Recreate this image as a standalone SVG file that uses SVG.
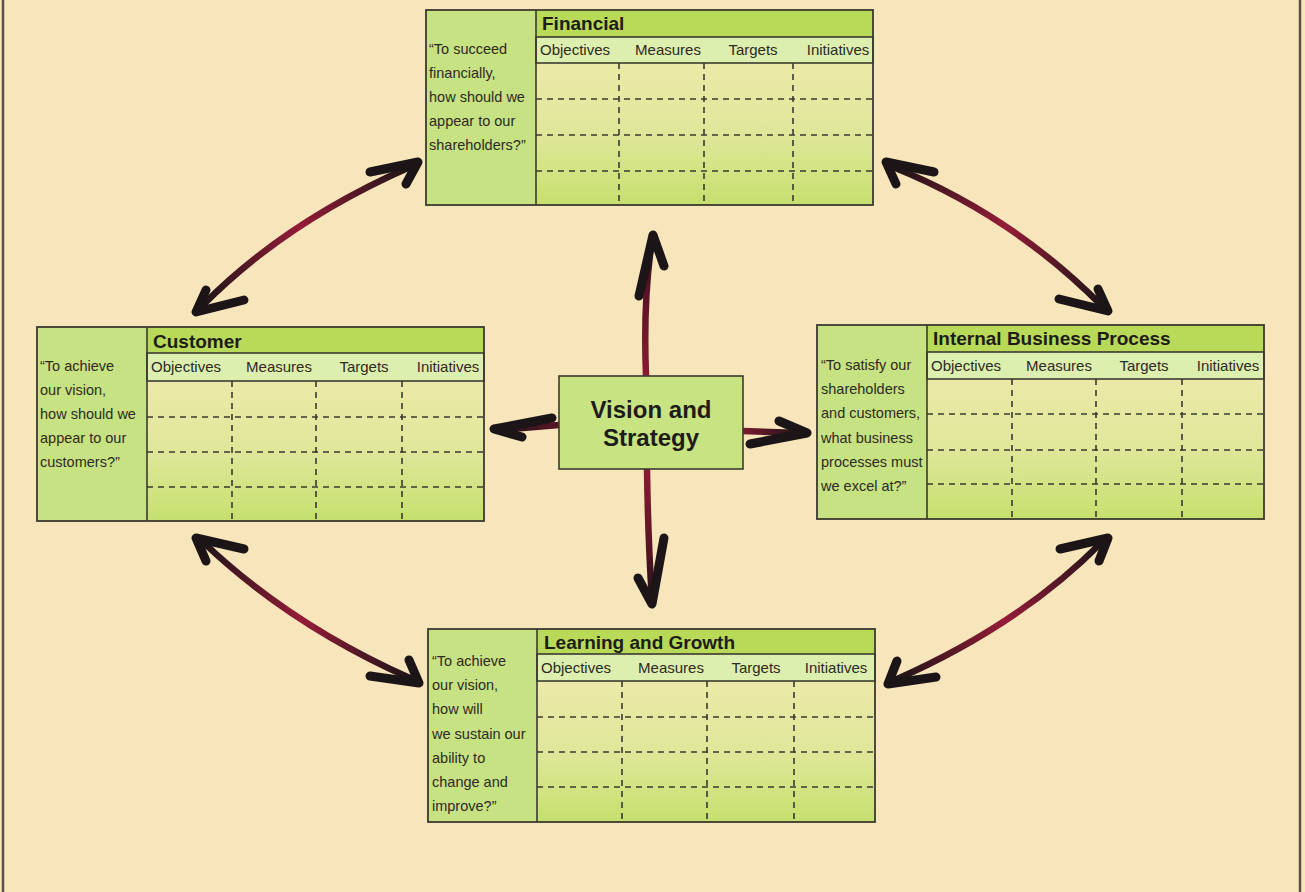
<svg xmlns="http://www.w3.org/2000/svg" width="1305" height="892" viewBox="0 0 1305 892">
<defs>
<style>
.bg{fill:#f7e6bb}
.frame{stroke:#5a5248;stroke-width:2.5}
.outer{fill:none;stroke:#3b3a30;stroke-width:1.8}
.left{fill:#c7e283}
.band{fill:#b8da58}
.hdr{fill:#ddefae;stroke:#3b3a30;stroke-width:1.6}
.cells{fill:url(#cellg)}
.solid{stroke:#3b3a30;stroke-width:1.6;fill:none}
.dash{stroke:#3b3a30;stroke-width:1.6;stroke-dasharray:6 5;fill:none}
.q{font-family:"Liberation Sans",Arial,sans-serif;font-size:14.5px;fill:#2e2a24}
.h{font-family:"Liberation Sans",Arial,sans-serif;font-size:15px;fill:#2e2a24;text-anchor:middle}
.t{font-family:"Liberation Sans",Arial,sans-serif;font-size:19px;font-weight:bold;fill:#1e1c18}
.c{font-family:"Liberation Sans",Arial,sans-serif;font-size:24px;font-weight:bold;fill:#1e1c18;text-anchor:middle}
.vbox{fill:#c8e382;stroke:#3b3a30;stroke-width:1.6}
.head{fill:none;stroke:#1c1517;stroke-width:9;stroke-linecap:round;stroke-linejoin:round}
.shaft{fill:none;stroke-width:6.5;stroke-linecap:round}
</style>
<linearGradient id="cellg" x1="0" y1="0" x2="0" y2="1">
<stop offset="0" stop-color="#ece9a8"/>
<stop offset="0.5" stop-color="#dfe79a"/>
<stop offset="1" stop-color="#c6e06e"/>
</linearGradient>
<linearGradient id="g1" gradientUnits="userSpaceOnUse" x1="203" y1="305" x2="410" y2="167">
<stop offset="0" stop-color="#1c1517"/><stop offset="0.5" stop-color="#951c38"/><stop offset="1" stop-color="#1c1517"/>
</linearGradient>
<linearGradient id="g2" gradientUnits="userSpaceOnUse" x1="893" y1="167" x2="1102" y2="306">
<stop offset="0" stop-color="#1c1517"/><stop offset="0.5" stop-color="#951c38"/><stop offset="1" stop-color="#1c1517"/>
</linearGradient>
<linearGradient id="g3" gradientUnits="userSpaceOnUse" x1="203" y1="542" x2="412" y2="679">
<stop offset="0" stop-color="#1c1517"/><stop offset="0.5" stop-color="#951c38"/><stop offset="1" stop-color="#1c1517"/>
</linearGradient>
<linearGradient id="g4" gradientUnits="userSpaceOnUse" x1="1102" y1="542" x2="895" y2="680">
<stop offset="0" stop-color="#1c1517"/><stop offset="0.5" stop-color="#951c38"/><stop offset="1" stop-color="#1c1517"/>
</linearGradient>
<linearGradient id="gu" gradientUnits="userSpaceOnUse" x1="0" y1="376" x2="0" y2="240">
<stop offset="0" stop-color="#8a1a33"/><stop offset="0.6" stop-color="#5a1424"/><stop offset="1" stop-color="#1c1517"/>
</linearGradient>
<linearGradient id="gd" gradientUnits="userSpaceOnUse" x1="0" y1="469" x2="0" y2="600">
<stop offset="0" stop-color="#8a1a33"/><stop offset="0.6" stop-color="#5a1424"/><stop offset="1" stop-color="#1c1517"/>
</linearGradient>
<linearGradient id="gl" gradientUnits="userSpaceOnUse" x1="559" y1="0" x2="500" y2="0">
<stop offset="0" stop-color="#5a1424"/><stop offset="1" stop-color="#1c1517"/>
</linearGradient>
<linearGradient id="gr" gradientUnits="userSpaceOnUse" x1="743" y1="0" x2="800" y2="0">
<stop offset="0" stop-color="#7a1a30"/><stop offset="1" stop-color="#1c1517"/>
</linearGradient>
</defs>

<rect class="bg" x="0" y="0" width="1305" height="892"/>
<line class="frame" x1="3" y1="0" x2="3" y2="892"/>
<line class="frame" x1="1300" y1="0" x2="1300" y2="892"/>

<g id="connectors">
<path class="shaft" stroke="url(#g1)" d="M203,305 Q285,222 410,167"/>
<path class="head" d="M370,172 L418,162 L406,184"/>
<path class="head" d="M244,300 L196,312 L206,290"/>

<path class="shaft" stroke="url(#g2)" d="M893,167 Q1012,215 1102,306"/>
<path class="head" d="M934,172 L886,162 L896,184"/>
<path class="head" d="M1059,299 L1108,311 L1098,289"/>

<path class="shaft" stroke="url(#g3)" d="M203,542 Q290,625 412,679"/>
<path class="head" d="M244,549 L196,538 L206,561"/>
<path class="head" d="M370,676 L419,683 L409,660"/>

<path class="shaft" stroke="url(#g4)" d="M1102,542 Q1020,625 895,680"/>
<path class="head" d="M1060,549 L1108,538 L1099,561"/>
<path class="head" d="M936,677 L888,684 L897,661"/>

<path class="shaft" stroke="url(#gu)" d="M646,376 Q643,300 652,240"/>
<path class="head" d="M639,296 L653,235 L664,266"/>

<path class="shaft" stroke="url(#gd)" d="M647,469 Q648,540 652,600"/>
<path class="head" d="M638,578 L652,604 L664,538"/>

<path class="shaft" stroke="url(#gl)" d="M559,425 L500,430"/>
<path class="head" d="M552,418 L494,429 L522,437"/>

<path class="shaft" stroke="url(#gr)" d="M743,431 L800,433"/>
<path class="head" d="M779,421 L807,433 L750,444"/>
</g>

<g id="financial" transform="translate(426,10)">
<rect class="left" x="0" y="0" width="110" height="195"/>
<rect class="band" x="110" y="0" width="337" height="27"/>
<rect class="cells" x="110" y="53" width="337" height="142"/>
<rect class="hdr" x="110" y="27" width="337" height="26"/>
<line class="dash" x1="110" y1="89" x2="447" y2="89"/>
<line class="dash" x1="110" y1="125" x2="447" y2="125"/>
<line class="dash" x1="110" y1="161" x2="447" y2="161"/>
<line class="dash" x1="193" y1="53" x2="193" y2="195"/>
<line class="dash" x1="278" y1="53" x2="278" y2="195"/>
<line class="dash" x1="367" y1="53" x2="367" y2="195"/>
<line class="solid" x1="110" y1="0" x2="110" y2="195"/>
<rect class="outer" x="0" y="0" width="447" height="195"/>
<text class="t" x="116" y="20">Financial</text>
<text class="h" x="149" y="45">Objectives</text>
<text class="h" x="242" y="45">Measures</text>
<text class="h" x="327" y="45">Targets</text>
<text class="h" x="412" y="45">Initiatives</text>
<text class="q" x="3" y="44">“To succeed</text>
<text class="q" x="3" y="68">financially,</text>
<text class="q" x="3" y="92">how should we</text>
<text class="q" x="3" y="116">appear to our</text>
<text class="q" x="3" y="140">shareholders?”</text>
</g>

<g id="customer" transform="translate(37,327)">
<rect class="left" x="0" y="0" width="110" height="194"/>
<rect class="band" x="110" y="0" width="337" height="26"/>
<rect class="cells" x="110" y="54" width="337" height="140"/>
<rect class="hdr" x="110" y="26" width="337" height="28"/>
<line class="dash" x1="110" y1="90" x2="447" y2="90"/>
<line class="dash" x1="110" y1="125" x2="447" y2="125"/>
<line class="dash" x1="110" y1="160" x2="447" y2="160"/>
<line class="dash" x1="195" y1="54" x2="195" y2="194"/>
<line class="dash" x1="279" y1="54" x2="279" y2="194"/>
<line class="dash" x1="365" y1="54" x2="365" y2="194"/>
<line class="solid" x1="110" y1="0" x2="110" y2="194"/>
<rect class="outer" x="0" y="0" width="447" height="194"/>
<text class="t" x="116" y="21">Customer</text>
<text class="h" x="149" y="45">Objectives</text>
<text class="h" x="242" y="45">Measures</text>
<text class="h" x="327" y="45">Targets</text>
<text class="h" x="411" y="45">Initiatives</text>
<text class="q" x="3" y="44">“To achieve</text>
<text class="q" x="3" y="68">our vision,</text>
<text class="q" x="3" y="92">how should we</text>
<text class="q" x="3" y="116">appear to our</text>
<text class="q" x="3" y="140">customers?”</text>
</g>

<g id="internal" transform="translate(817,325)">
<rect class="left" x="0" y="0" width="110" height="194"/>
<rect class="band" x="110" y="0" width="337" height="27"/>
<rect class="cells" x="110" y="54" width="337" height="140"/>
<rect class="hdr" x="110" y="27" width="337" height="27"/>
<line class="dash" x1="110" y1="89" x2="447" y2="89"/>
<line class="dash" x1="110" y1="125" x2="447" y2="125"/>
<line class="dash" x1="110" y1="159" x2="447" y2="159"/>
<line class="dash" x1="195" y1="54" x2="195" y2="194"/>
<line class="dash" x1="279" y1="54" x2="279" y2="194"/>
<line class="dash" x1="365" y1="54" x2="365" y2="194"/>
<line class="solid" x1="110" y1="0" x2="110" y2="194"/>
<rect class="outer" x="0" y="0" width="447" height="194"/>
<text class="t" x="116" y="20">Internal Business Process</text>
<text class="h" x="149" y="46">Objectives</text>
<text class="h" x="242" y="46">Measures</text>
<text class="h" x="327" y="46">Targets</text>
<text class="h" x="411" y="46">Initiatives</text>
<text class="q" x="4" y="45">“To satisfy our</text>
<text class="q" x="4" y="69">shareholders</text>
<text class="q" x="4" y="93">and customers,</text>
<text class="q" x="4" y="118">what business</text>
<text class="q" x="4" y="142">processes must</text>
<text class="q" x="4" y="166">we excel at?”</text>
</g>

<g id="learning" transform="translate(428,629)">
<rect class="left" x="0" y="0" width="109" height="193"/>
<rect class="band" x="109" y="0" width="338" height="25"/>
<rect class="cells" x="109" y="52" width="338" height="141"/>
<rect class="hdr" x="109" y="25" width="338" height="27"/>
<line class="dash" x1="109" y1="88" x2="447" y2="88"/>
<line class="dash" x1="109" y1="123" x2="447" y2="123"/>
<line class="dash" x1="109" y1="158" x2="447" y2="158"/>
<line class="dash" x1="194" y1="52" x2="194" y2="193"/>
<line class="dash" x1="279" y1="52" x2="279" y2="193"/>
<line class="dash" x1="366" y1="52" x2="366" y2="193"/>
<line class="solid" x1="109" y1="0" x2="109" y2="193"/>
<rect class="outer" x="0" y="0" width="447" height="193"/>
<text class="t" x="116" y="20">Learning and Growth</text>
<text class="h" x="148" y="44">Objectives</text>
<text class="h" x="243" y="44">Measures</text>
<text class="h" x="328" y="44">Targets</text>
<text class="h" x="408" y="44">Initiatives</text>
<text class="q" x="4" y="37">“To achieve</text>
<text class="q" x="4" y="61">our vision,</text>
<text class="q" x="4" y="85">how will</text>
<text class="q" x="4" y="110">we sustain our</text>
<text class="q" x="4" y="134">ability to</text>
<text class="q" x="4" y="158">change and</text>
<text class="q" x="4" y="182">improve?”</text>
</g>

<g id="vision">
<rect class="vbox" x="559" y="376" width="184" height="93"/>
<text class="c" x="651" y="418">Vision and</text>
<text class="c" x="651" y="446">Strategy</text>
</g>
</svg>
